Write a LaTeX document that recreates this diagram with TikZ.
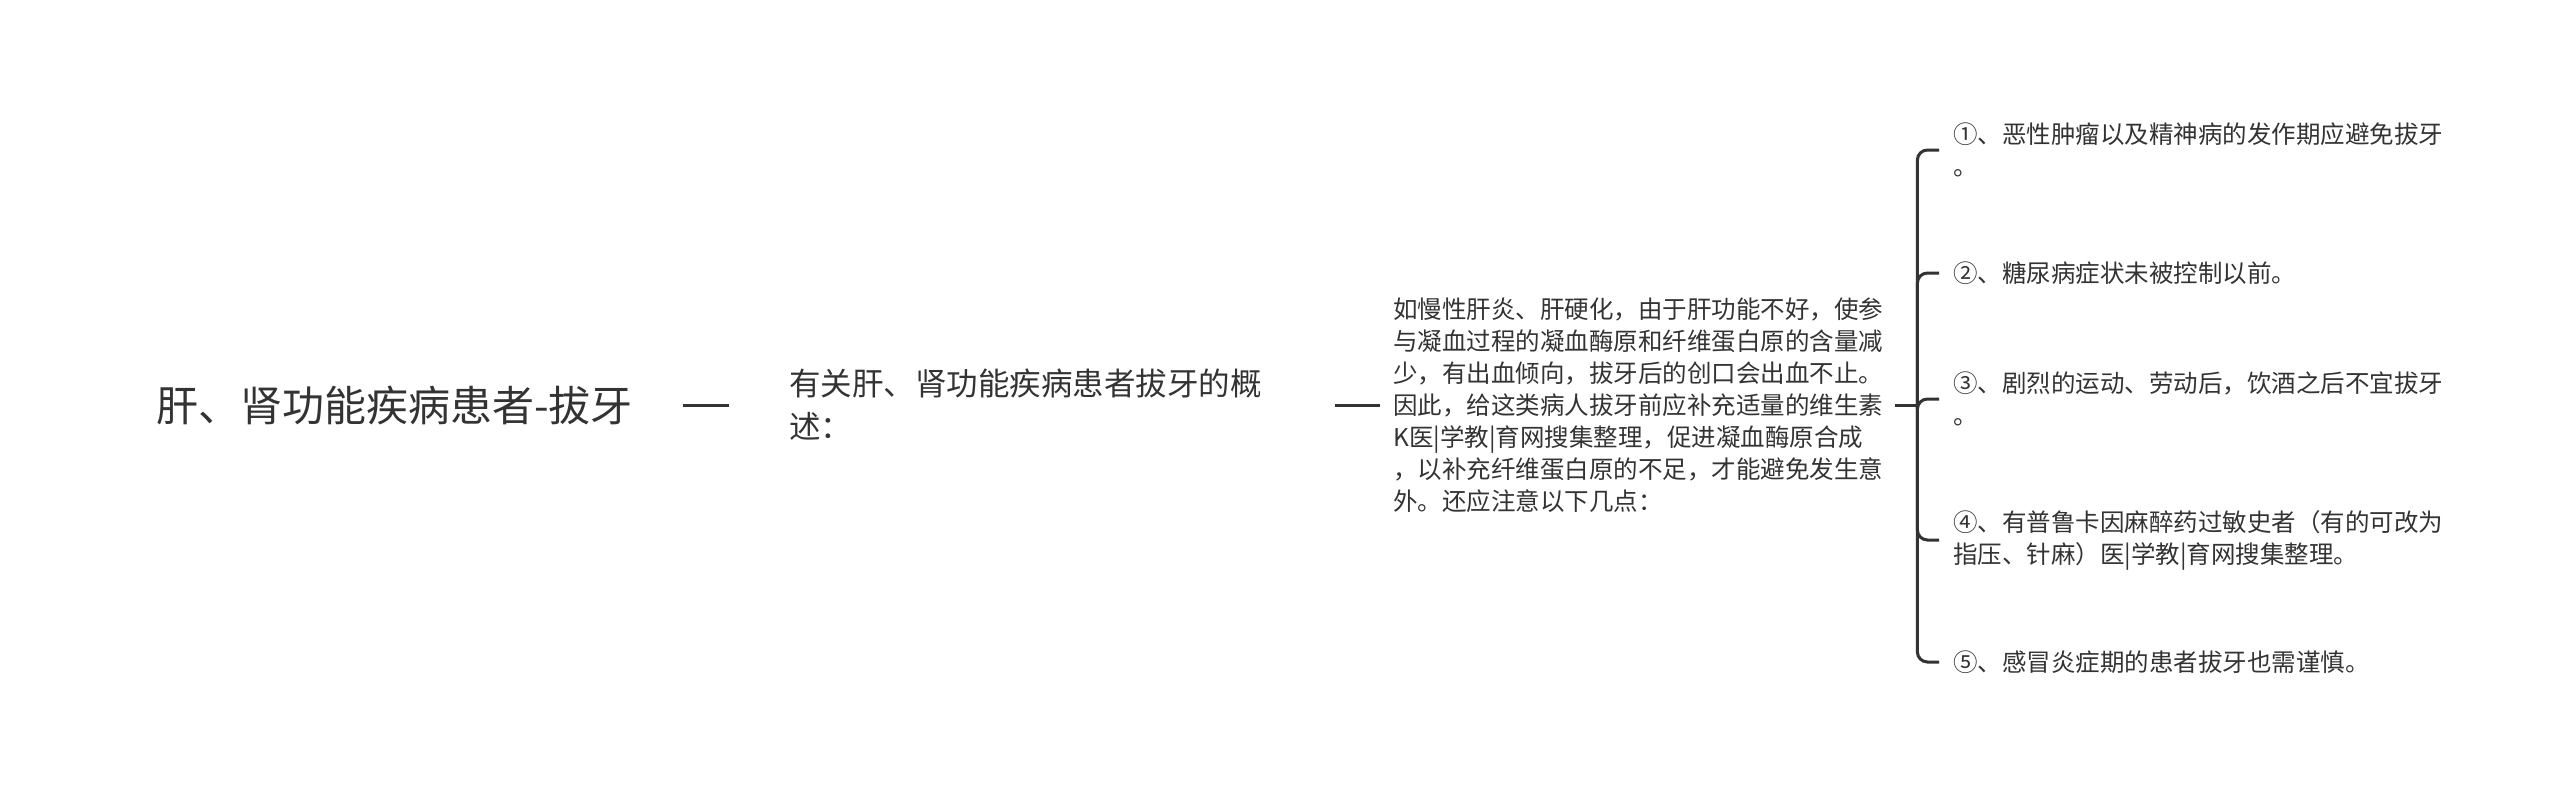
\documentclass[tikz,border=0pt]{standalone}
\usepackage{fontspec}
\setmainfont{Noto Sans CJK SC}
\usepackage{tikz}
\usetikzlibrary{positioning}
\usetikzlibrary{calc}
\definecolor{encre}{HTML}{333333}
\tikzstyle{racine}=[
        text=encre,
        font=\fontsize{42pt}{52pt}\selectfont,
        inner xsep=50pt,
        inner ysep=0pt
]
\tikzstyle{resume}=[
        text=encre,
        font=\fontsize{31.5pt}{43pt}\selectfont,
        align=left,
        text width=486pt,
        inner xsep=60pt,
        inner ysep=0pt
]
\tikzstyle{detail}=[
        text=encre,
        font=\fontsize{24.5pt}{32pt}\selectfont,
        align=left,
        text width=489pt,
        inner xsep=13pt,
        inner ysep=0pt
]
\tikzstyle{point}=[text=encre,font=\fontsize{24.5pt}{32pt}\selectfont,align=left,inner xsep=14pt,inner ysep=0pt]
\tikzstyle{lien}=[draw=encre,line width=3pt]

\begin{document}
\begin{tikzpicture}[x=1pt,y=-1pt]
\useasboundingbox (0,0) rectangle (2560,795);
\node[racine,anchor=east] (a) at (683,405) {肝、肾功能疾病患者-拔牙};
\node[resume,anchor=west] (b) at (729,405) {有关肝、肾功能疾病患者拔牙的概\\述：};
\node[detail,anchor=west] (c) at (1380,405) {如慢性肝炎、肝硬化，由于肝功能不好，使参\\与凝血过程的凝血酶原和纤维蛋白原的含量减\\少，有出血倾向，拔牙后的创口会出血不止。\\因此，给这类病人拔牙前应补充适量的维生素\\K医|学教|育网搜集整理，促进凝血酶原合成\\，以补充纤维蛋白原的不足，才能避免发生意\\外。还应注意以下几点：};
\coordinate (h) at ($(c.east)+(22,0)$);
\node[point,anchor=west] (p1) at (1939,150) {①、恶性肿瘤以及精神病的发作期应避免拔牙\\。};
\node[point,anchor=west] (p2) at (1939,273) {②、糖尿病症状未被控制以前。};
\node[point,anchor=west] (p3) at (1939,399) {③、剧烈的运动、劳动后，饮酒之后不宜拔牙\\。};
\node[point,anchor=west] (p4) at (1939,540) {④、有普鲁卡因麻醉药过敏史者（有的可改为\\指压、针麻）医|学教|育网搜集整理。};
\node[point,anchor=west] (p5) at (1939,662) {⑤、感冒炎症期的患者拔牙也需谨慎。};
%liens
\draw[lien] (a) -- (b);
\draw[lien] (b) -- (c);
\draw[lien] (c) -- (h);
\foreach \i in {1,...,5}
  \draw[lien,rounded corners=10pt] (h) |- (p\i.west);
\end{tikzpicture}
\end{document}
